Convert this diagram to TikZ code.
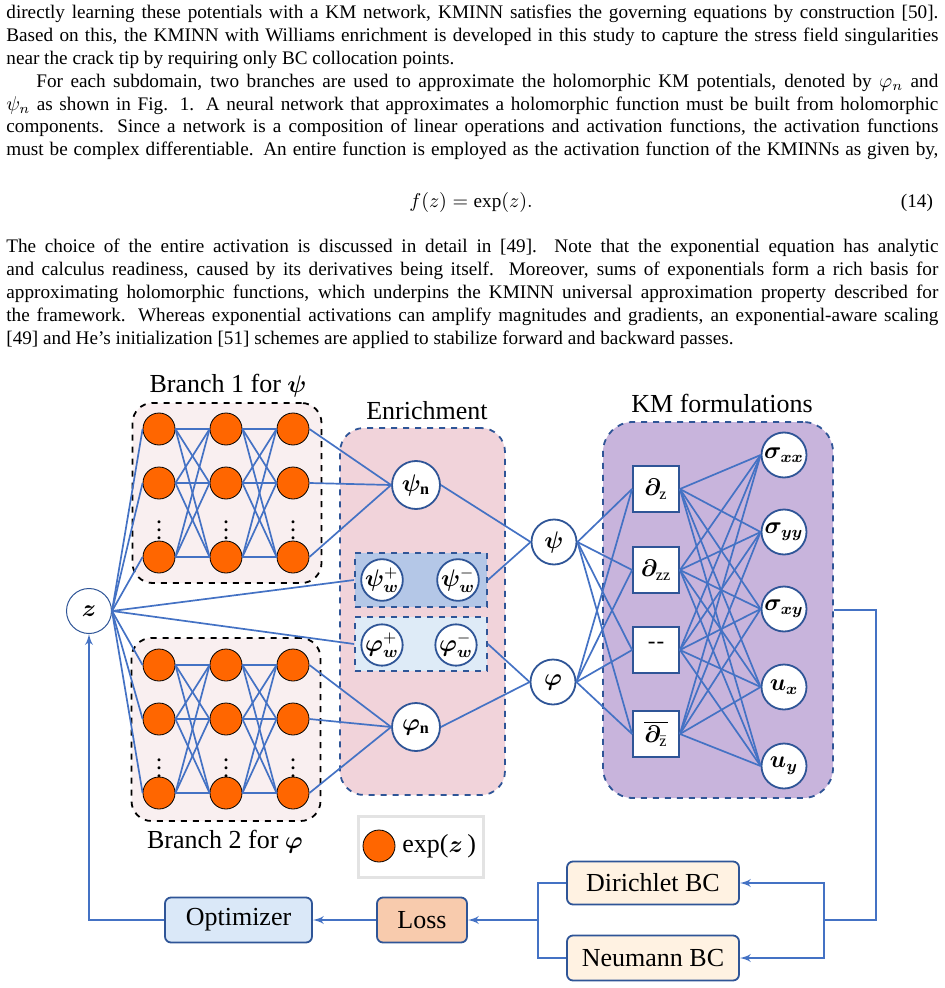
\documentclass[tikz,border=0pt]{standalone}
\usepackage{amsmath}
\usepackage{amssymb}
\usepackage{bm}
\usepackage{fontspec}
\setmainfont{Liberation Serif}
\usepackage{tikz}
\usetikzlibrary{arrows,positioning}

\definecolor{linkblue}{HTML}{4472C4}
\definecolor{darkblue}{HTML}{2F5597}
\definecolor{expcolor}{HTML}{FF6600}
\definecolor{branchfill}{HTML}{F9EFF0}
\definecolor{enrichfill}{HTML}{F1D3DA}
\definecolor{psiwfill}{HTML}{B4C7E7}
\definecolor{phiwfill}{HTML}{DEEBF7}
\definecolor{kmfill}{HTML}{C8B4DC}
\definecolor{bcfill}{HTML}{FFF2E2}
\definecolor{lossfill}{HTML}{F8CBAD}
\definecolor{optfill}{HTML}{DAE8F8}
\definecolor{leggray}{HTML}{E3E3E3}

\begin{document}
\begin{tikzpicture}[
    x=0.5pt, y=-0.5pt,
    >=latex',
    font=\fontsize{13}{15}\selectfont,
    body/.style={
		anchor=north west,
		inner sep=0pt,
		align=left,
		font=\fontsize{9.6}{11.4}\selectfont
	},
    neuron/.style={
		circle,
		draw=black,
		line width=0.4pt,
		fill=expcolor,
		minimum size=16pt,
		inner sep=0pt
	},
    var/.style={
		circle,
		draw=darkblue,
		line width=0.9pt,
		fill=white,
		minimum size=22.5pt,
		inner sep=0pt,
		font=\fontsize{11.5}{13}\selectfont
	},
    opbox/.style={
		rectangle,
		draw=darkblue,
		line width=0.9pt,
		fill=white,
		minimum width=23pt,
		minimum height=23pt,
		inner sep=0pt,
		font=\fontsize{11.5}{13}\selectfont
	},
    group/.style={
		rectangle,
		rounded corners=10pt,
		dashed,
		line width=0.9pt
	},
    stage/.style={
		rectangle,
		rounded corners=3pt,
		draw=darkblue,
		line width=0.9pt,
		minimum height=22.5pt
	},
    vdot/.style={
		inner sep=0pt,
		font=\fontsize{9}{10}\selectfont
	},
    link/.style={
		draw=linkblue,
		line width=0.85pt
	},
    flow/.style={
		draw=linkblue,
		line width=0.9pt
	}
  ]
  \useasboundingbox (0,0) rectangle (945,988);

  % the text above the figure
  \node [body] (par1) at (6,5) {%
  \makebox[466pt][s]{directly learning these potentials with a KM network, KMINN satisfies the governing equations by construction [50].}\\
  \makebox[466pt][s]{Based on this, the KMINN with Williams enrichment is developed in this study to capture the stress field singularities}\\
  near the crack tip by requiring only BC collocation points.\\
  \hspace*{15pt}\makebox[451pt][s]{For each subdomain, two branches are used to approximate the holomorphic KM potentials, denoted by $\varphi_n$ and}\\
  \makebox[466pt][s]{$\psi_n$ as shown in Fig. 1. A neural network that approximates a holomorphic function must be built from holomorphic}\\
  \makebox[466pt][s]{components. Since a network is a composition of linear operations and activation functions, the activation functions}\\
  \makebox[466pt][s]{must be complex differentiable. An entire function is employed as the activation function of the KMINNs as given by,}
  };
  \node [font=\fontsize{9.6}{11.4}\selectfont] (eq) at (471,203) {$f(z) = \exp(z).$};
  \node [font=\fontsize{9.6}{11.4}\selectfont, anchor=east] (eqnum) at (940,203) {(14)};
  \node [body] (par2) at (6,239) {%
  \makebox[466pt][s]{The choice of the entire activation is discussed in detail in [49].\ \ Note that the exponential equation has analytic}\\
  \makebox[466pt][s]{and calculus readiness, caused by its derivatives being itself.\ \ Moreover, sums of exponentials form a rich basis for}\\
  \makebox[466pt][s]{approximating holomorphic functions, which underpins the KMINN universal approximation property described for}\\
  \makebox[466pt][s]{the framework. Whereas exponential activations can amplify magnitudes and gradients, an exponential-aware scaling}\\
  {[49]} and He’s initialization [51] schemes are applied to stabilize forward and backward passes.
  };

  % the group boxes
  \node [group, draw=black, fill=branchfill, minimum width=94.5pt, minimum height=90pt] (branch1) at (227,493) {};
  \node [group, draw=black, fill=branchfill, minimum width=94.5pt, minimum height=91.5pt] (branch2) at (226,729.5) {};
  \node [group, draw=darkblue, fill=enrichfill, rounded corners=12pt, minimum width=82.5pt, minimum height=183.5pt] (enrich) at (422.5,611.5) {};
  \node [rectangle, dashed, draw=darkblue, line width=0.9pt, fill=psiwfill, minimum width=66pt, minimum height=27pt] (psiw) at (421,580) {};
  \node [rectangle, dashed, draw=darkblue, line width=0.9pt, fill=phiwfill, minimum width=66pt, minimum height=27pt] (phiw) at (421,644) {};
  \node [group, draw=darkblue, fill=kmfill, rounded corners=15pt, minimum width=115pt, minimum height=188pt] (km) at (718,610) {};

  \node (lbranch1) at (228,386) {Branch 1 for $\bm{\psi}$};
  \node (lbranch2) at (225,842) {Branch 2 for $\bm{\varphi}$};
  \node (lenrich) at (427,411) {Enrichment};
  \node (lkm) at (722,403) {KM formulations};

  % the two branches
  \foreach \c/\x in {1/159,2/226,3/293} {
    \foreach \r/\y in {1/429,2/483,3/557}
      \node [neuron] (p\c\r) at (\x,\y) {};
    \foreach \r/\y in {1/665,2/719,3/793}
      \node [neuron] (f\c\r) at (\x,\y) {};
    \node [vdot] (pdots\c) at (\x,524) {$\bm{\vdots}$};
    \node [vdot] (fdots\c) at (\x,762) {$\bm{\vdots}$};
  }

  \node [var, line width=0.5pt] (z) at (89,611) {$\bm{z}$};

  % enrichment
  \node [var, minimum size=24pt] (psin) at (416,485) {$\bm{\psi}_{\mathbf{n}}$};
  \node [var, minimum size=20pt] (psiwp) at (382,580) {$\bm{\psi}^{+}_{\bm{w}}$};
  \node [var, minimum size=20pt] (psiwm) at (458,580) {$\bm{\psi}^{-}_{\bm{w}}$};
  \node [var, minimum size=20pt] (phiwp) at (382,645) {$\bm{\varphi}^{+}_{\bm{w}}$};
  \node [var, minimum size=20pt] (phiwm) at (456,645) {$\bm{\varphi}^{-}_{\bm{w}}$};
  \node [var, minimum size=24pt] (phin) at (416,727) {$\bm{\varphi}_{\mathbf{n}}$};

  \node [var] (psi) at (554,542) {$\bm{\psi}$};
  \node [var] (phi) at (553,682) {$\bm{\varphi}$};

  % KM formulations
  \node [opbox] (dz) at (656,489) {$\bm{\partial}_{\mathrm{z}}$};
  \node [opbox] (dzz) at (656,570) {$\bm{\partial}_{\mathrm{zz}}$};
  \node [opbox] (conj) at (656,650) {\raisebox{5pt}{-\kern0.5pt-}};
  \node [opbox] (dzb) at (656,734) {$\overline{\bm{\partial}_{\bar{\mathrm{z}}}}$};

  \node [var] (sxx) at (784,455) {$\bm{\sigma}_{\bm{xx}}$};
  \node [var] (syy) at (784,532) {$\bm{\sigma}_{\bm{yy}}$};
  \node [var] (sxy) at (784,609) {$\bm{\sigma}_{\bm{xy}}$};
  \node [var] (ux) at (784,687) {$\bm{u}_{\bm{x}}$};
  \node [var] (uy) at (784,766) {$\bm{u}_{\bm{y}}$};

  % legend and the training loop
  \node [rectangle, draw=leggray, line width=1.5pt, fill=white, minimum width=62.5pt, minimum height=30.5pt] (legend) at (420.5,846.5) {};
  \node [neuron] (legdot) at (379,846) {};
  \node [anchor=west, inner sep=0pt] (legtext) at (402,846) {exp($\bm{z}$\,)};

  \node [stage, fill=optfill, minimum width=73.5pt] (opt) at (238.5,920) {Optimizer};
  \node [stage, fill=lossfill, minimum width=45pt] (loss) at (422,920) {Loss};
  \node [stage, fill=bcfill, minimum width=86pt, minimum height=21.5pt] (dir) at (653,883) {Dirichlet BC};
  \node [stage, fill=bcfill, minimum width=86pt] (neu) at (653,958) {Neumann BC};

  \coordinate (jl) at (538,920);
  \coordinate (jr) at (824,920);
  \coordinate (turn) at (876,920);

  % connections
  \foreach \r in {1,2,3} {
    \draw [link] (z.east) -- (p1\r.west);
    \draw [link] (z.east) -- (f1\r.west);
    \draw [link] (p3\r.east) -- (psin.west);
    \draw [link] (f3\r.east) -- (phin.west);
    \foreach \s in {1,2,3} {
      \draw [link] (p1\r.east) -- (p2\s.west);
      \draw [link] (p2\r.east) -- (p3\s.west);
      \draw [link] (f1\r.east) -- (f2\s.west);
      \draw [link] (f2\r.east) -- (f3\s.west);
    }
  }
  \draw [link] (z.east) -- (psiw.west);
  \draw [link] (z.east) -- (phiw.west);
  \draw [link] (psin.east) -- (psi.west);
  \draw [link] (psiw.east) -- (psi.west);
  \draw [link] (phiw.east) -- (phi.west);
  \draw [link] (phin.east) -- (phi.west);

  \foreach \b in {dz,dzz,conj,dzb} {
    \draw [link] (psi.east) -- (\b.west);
    \draw [link] (phi.east) -- (\b.west);
    \foreach \o in {sxx,syy,sxy,ux,uy}
      \draw [link] (\b.east) -- (\o.west);
  }

  \draw [flow] (km.east) -| (turn) -- (jr);
  \draw [flow,->] (jr) |- (dir.east);
  \draw [flow,->] (jr) |- (neu.east);
  \draw [flow] (dir.west) -| (jl);
  \draw [flow] (neu.west) -| (jl);
  \draw [flow,->] (jl) -- (loss.east);
  \draw [flow,->] (loss.west) -- (opt.east);
  \draw [flow,->] (opt.west) -| (z.south);

\end{tikzpicture}
\end{document}
